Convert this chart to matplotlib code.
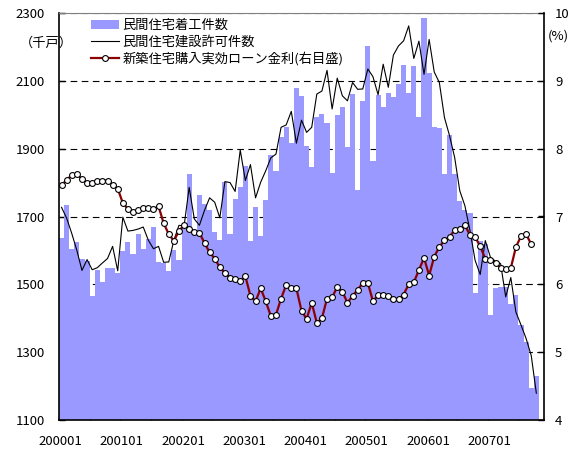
import numpy as np
import matplotlib
matplotlib.use('Agg')
import matplotlib.pyplot as plt
from matplotlib.patches import Patch
from matplotlib.lines import Line2D

plt.rcParams['font.family'] = ['Noto Sans CJK JP', 'DejaVu Sans']

# ---- data (monthly, 2000-01 ... ) ----
n_categories = 95
tick_labels = ['200001', '200101', '200201', '200301', '200401', '200501', '200601', '200701']

starts = [1636, 1735, 1603, 1624, 1574, 1568, 1465, 1541, 1507, 1547, 1549, 1533,
          1597, 1624, 1588, 1647, 1603, 1634, 1669, 1566, 1564, 1538, 1600, 1571,
          1680, 1826, 1644, 1762, 1737, 1718, 1654, 1632, 1801, 1649, 1752, 1786,
          1850, 1627, 1727, 1642, 1750, 1880, 1833, 1935, 1963, 1916, 2078, 2056,
          1909, 1845, 1994, 2002, 1976, 1827, 1999, 2024, 1904, 2061, 1779, 2041,
          2203, 1863, 2058, 2024, 2064, 2053, 2090, 2147, 2063, 2144, 1992, 2285,
          2124, 1963, 1960, 1824, 1941, 1824, 1745, 1718, 1710, 1473, 1629, 1620,
          1409, 1490, 1492, 1492, 1443, 1468, 1380, 1330, 1195, 1229]

permits = [1727, 1695, 1650, 1600, 1541, 1573, 1543, 1549, 1563, 1576, 1612, 1540,
           1698, 1657, 1659, 1663, 1669, 1630, 1605, 1612, 1565, 1566, 1630, 1674,
           1672, 1786, 1693, 1674, 1718, 1755, 1742, 1696, 1803, 1800, 1774, 1896,
           1806, 1853, 1755, 1801, 1835, 1873, 1884, 1963, 1970, 2010, 1916, 1984,
           1948, 1963, 2061, 2070, 2131, 2017, 2108, 2056, 2041, 2095, 2075, 2076,
           2135, 2112, 2059, 2149, 2081, 2176, 2203, 2218, 2262, 2166, 2217, 2119,
           2222, 2126, 2095, 1992, 1938, 1874, 1776, 1732, 1659, 1571, 1529, 1629,
           1580, 1568, 1561, 1463, 1520, 1418, 1380, 1340, 1290, 1179]

rate = [7.46, 7.54, 7.61, 7.63, 7.55, 7.50, 7.50, 7.53, 7.53, 7.53, 7.47, 7.41,
        7.20, 7.11, 7.06, 7.09, 7.12, 7.12, 7.11, 7.15, 6.90, 6.74, 6.64, 6.79,
        6.87, 6.82, 6.77, 6.76, 6.61, 6.47, 6.38, 6.25, 6.17, 6.10, 6.08, 6.05,
        6.12, 5.83, 5.75, 5.94, 5.75, 5.53, 5.55, 5.79, 5.99, 5.94, 5.94, 5.61,
        5.49, 5.73, 5.43, 5.50, 5.79, 5.81, 5.96, 5.89, 5.73, 5.83, 5.92, 6.02,
        6.02, 5.75, 5.84, 5.85, 5.83, 5.78, 5.78, 5.85, 6.00, 6.03, 6.21, 6.39,
        6.13, 6.41, 6.55, 6.65, 6.70, 6.80, 6.82, 6.87, 6.73, 6.70, 6.56, 6.38,
        6.36, 6.32, 6.24, 6.23, 6.24, 6.55, 6.71, 6.74, 6.59]

label_starts = '民間住宅着工件数'
label_permits = '民間住宅建設許可件数'
label_rate = '新築住宅購入実効ローン金利(右目盛)'

bar_color = '#9999FF'
rate_color = '#8B0000'
fs = 9.5

fig = plt.figure(figsize=(5.79, 4.5), dpi=100)
ax = fig.add_axes([59 / 579, 1 - 420 / 450, 485 / 579, 407 / 450])

x_s = np.arange(len(starts))
ax.bar(x_s, starts, width=1.0, color=bar_color, linewidth=0, zorder=2)
ax.plot(np.arange(len(permits)), permits, color='black', lw=0.8, zorder=3)

ax.set_xlim(-0.5, n_categories - 0.5)
ax.set_ylim(1100, 2300)
ax.set_yticks(np.arange(1100, 2301, 200))
ax.yaxis.grid(True, linestyle=(0, (6, 4)), color='black', lw=0.8)
ax.set_axisbelow(True)

# x ticks: marks every 6 months, labels every 12
ax.set_xticks(np.arange(-0.5, n_categories - 0.5, 6), minor=True)
ax.set_xticks(np.arange(-0.5, n_categories - 0.5, 12)[:len(tick_labels)] + 0.3)
ax.set_xticklabels(tick_labels, fontsize=fs)
ax.tick_params(axis='x', which='major', length=0, pad=11)
ax.tick_params(axis='x', which='minor', direction='in', length=4, width=1)
ax.tick_params(axis='y', direction='in', length=4, width=1, pad=10, labelsize=fs)

for s in ['left', 'bottom']:
    ax.spines[s].set_linewidth(1.2)
    ax.spines[s].set_color('black')
ax.spines['top'].set_color('#808080')
ax.spines['top'].set_linewidth(0.8)
ax.spines['right'].set_visible(False)

ax2 = ax.twinx()
ax2.plot(np.arange(len(rate)), rate, color=rate_color, lw=1.6, marker='o', ms=4.2,
         mfc='white', mec='black', mew=0.8, zorder=4)
ax2.set_ylim(4, 10)
ax2.set_yticks(np.arange(4, 11, 1))
ax2.tick_params(axis='y', direction='in', length=4, width=1, pad=8, labelsize=fs)
for s in ['left', 'bottom', 'top']:
    ax2.spines[s].set_visible(False)
ax2.spines['right'].set_linewidth(1.2)
ax2.spines['right'].set_color('black')

fig.text(46 / 579, 1 - 43 / 450, '（千戸）', ha='center', va='center', fontsize=fs)
fig.text(558 / 579, 1 - 36 / 450, '(%)', ha='center', va='center', fontsize=fs)

handles = [Patch(facecolor=bar_color, edgecolor='none'),
           Line2D([], [], color='black', lw=0.8),
           Line2D([], [], color=rate_color, lw=1.6, marker='o', ms=4.2,
                  mfc='white', mec='black', mew=0.8)]
ax2.legend(handles, [label_starts, label_permits, label_rate], loc='upper left',
           bbox_to_anchor=(0.066, 0.985), frameon=False, fontsize=fs,
           handlelength=2.1, handletextpad=0.3, labelspacing=0.25,
           borderpad=0, borderaxespad=0, numpoints=1)

fig.savefig('out.png', dpi=100)
